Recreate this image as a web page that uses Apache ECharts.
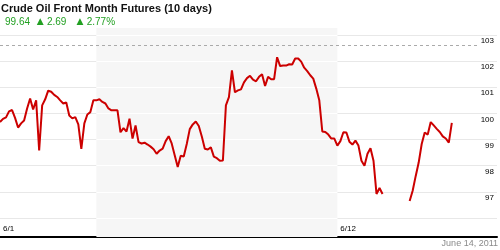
<!DOCTYPE html>
<html>
<head>
<meta charset="utf-8">
<script src="https://cdn.jsdelivr.net/npm/echarts@6/dist/echarts.min.js"></script>
<style>
html,body{margin:0;padding:0;background:#fff;}
#c{width:500px;height:250px;}
</style>
</head>
<body>
<div id="c"></div>
<script>
// ---- data ----
const titleText = 'Crude Oil Front Month Futures (10 days)';
const lastPrice = '99.64';
const change = '2.69';
const changePct = '2.77%';
const dateText = 'June 14, 2011';
const slotCount = 166;                 // time slots across the chart
const tickIndex = [0, 32, 112];        // slots where day labels sit
const tickLabels = ['6/1', '6/5', '6/12'];
const shadedRange = [32, 112];          // 6/5 .. 6/12 week shading
const refLevel = 102.62;                // dashed reference line
const refEnd = 159;
const yMin = 96, yMax = 103, yStep = 1;
const prices = [
  99.67, 99.79, 99.85, 100.08, 100.13, 99.83, 99.46, 99.62, 99.73, 100.19,
  100.57, 100.15, 100.50, 98.58, 100.31, 100.54, 100.87, 100.83, 100.71, 100.63,
  100.50, 100.38, 100.42, 99.92, 99.81, 99.86, 99.58, 98.64, 99.62, 99.96,
  100.05, 100.50, 100.50, 100.54, 100.44, 100.38, 100.19, 100.12, 100.12, 100.12,
  99.28, 99.44, 99.31, 99.80, 99.04, 99.54, 98.90, 98.85, 98.88, 98.81,
  98.73, 98.63, 98.46, 98.58, 98.65, 98.94, 99.13, 98.85, 98.40, 97.95,
  98.38, 98.35, 98.83, 99.40, 99.58, 99.69, 99.52, 99.12, 98.65, 98.62,
  98.70, 98.35, 98.29, 98.19, 98.20, 100.31, 100.62, 101.65, 100.81, 100.88,
  100.92, 101.19, 101.35, 101.44, 101.29, 101.23, 101.40, 101.50, 101.05, 101.40,
  101.31, 101.31, 102.15, 101.81, 101.83, 101.83, 101.88, 101.87, 102.10, 102.10,
  101.98, 101.75, 101.62, 101.46, 101.33, 100.95, 100.50, 99.31, 99.29, 99.19,
  99.04, 99.04, 98.77, 98.94, 99.28, 99.27, 98.92, 98.81, 98.96, 98.77,
  98.19, 98.00, 98.46, 98.67, 98.19, 96.92, 97.15, 96.92, null, null,
  null, null, null, null, null, null, 96.65, 97.04, 97.60, 98.12,
  98.83, 99.27, 99.19, 99.67, 99.54, 99.41, 99.29, 99.12, 99.04, 98.88,
  99.64
];

// ---- chart ----
const slots = [];
for (let i = 0; i < slotCount; i++) slots.push('s' + i);
const labelAt = {};
tickIndex.forEach((k, j) => { labelAt[k] = tickLabels[j]; });
const bandLines = [];
for (let v = yMin; v <= yMax; v += yStep) {
  bandLines.push([{coord: [slots[shadedRange[0]], v]}, {coord: [slots[shadedRange[1]], v]}]);
}

const chart = echarts.init(document.getElementById('c'), null, {renderer: 'canvas'});
const font = '"Liberation Sans", Arial, sans-serif';
const green = '#22a022';

chart.setOption({
  animation: false,
  textStyle: {fontFamily: font},
  graphic: [
    {type: 'text', left: 1, top: 3, z: 10,
     style: {text: titleText, font: 'bold 11px ' + font, fill: '#111'}},
    {type: 'text', left: 5, top: 16, z: 10,
     style: {
       text: '{v|' + lastPrice + '}  {t|▲} {v|' + change + '}   {t|▲} {v|' + changePct + '}',
       rich: {
         v: {fontSize: 10, fontFamily: font, fill: green, color: green},
         t: {fontSize: 9, fontFamily: '"DejaVu Sans", sans-serif', fill: green, color: green}
       }
     }},
    {type: 'text', right: 2, top: 239, z: 10,
     style: {text: dateText, font: '9px ' + font, fill: '#8a8a8a'}}
  ],
  grid: [
    {left: 0, right: 3, top: 35, bottom: 32},
    {left: 0, right: 3, top: 28, bottom: 13}
  ],
  xAxis: [
    {type: 'category', gridIndex: 0, data: slots, boundaryGap: false, show: false},
    {type: 'category', gridIndex: 1, data: slots, boundaryGap: false,
     axisLine: {show: true, lineStyle: {color: '#000', width: 2}},
     axisTick: {show: false},
     splitLine: {show: false},
     axisLabel: {
       inside: true, margin: 4, fontSize: 8, color: '#000', align: 'left',
       verticalAlign: 'bottom', padding: [0, 0, 0, 3],
       interval: (idx) => labelAt[idx] !== undefined,
       formatter: (val, idx) => labelAt[idx] || ''
     }}
  ],
  yAxis: [
    {type: 'value', gridIndex: 0, position: 'right', min: yMin, max: yMax, interval: yStep,
     axisLine: {show: false}, axisTick: {show: false},
     splitLine: {show: true, lineStyle: {color: '#e8e8e8', width: 1}},
     axisLabel: {inside: true, margin: 3, fontSize: 8, color: '#000', align: 'right',
                 verticalAlign: 'top', padding: [2, 0, 0, 0], showMinLabel: false}},
    {type: 'value', gridIndex: 1, min: 0, max: 1, show: false, splitLine: {show: false}}
  ],
  series: [
    {type: 'line', xAxisIndex: 1, yAxisIndex: 1, data: [], z: 1, silent: true,
     markArea: {silent: true, z: 1, itemStyle: {color: '#f6f6f6'},
       data: [[{xAxis: slots[shadedRange[0]]}, {xAxis: slots[shadedRange[1]]}]]}},
    {type: 'line', xAxisIndex: 0, yAxisIndex: 0, data: [], z: 2, silent: true,
     markLine: {silent: true, z: 2, symbol: 'none', label: {show: false},
       lineStyle: {color: '#ffffff', type: 'solid', width: 1},
       data: bandLines}},
    {type: 'line', xAxisIndex: 0, yAxisIndex: 0, data: prices, z: 4,
     showSymbol: false, symbol: 'none', connectNulls: false, clip: false,
     lineStyle: {color: '#cc0000', width: 2},
     markLine: {silent: true, z: 3, symbol: 'none', label: {show: false},
       lineStyle: {color: '#aaaaaa', type: [3, 3], width: 1},
       data: [[{coord: [slots[0], refLevel]}, {coord: [slots[refEnd], refLevel]}]]}}
  ]
});
</script>
</body>
</html>
